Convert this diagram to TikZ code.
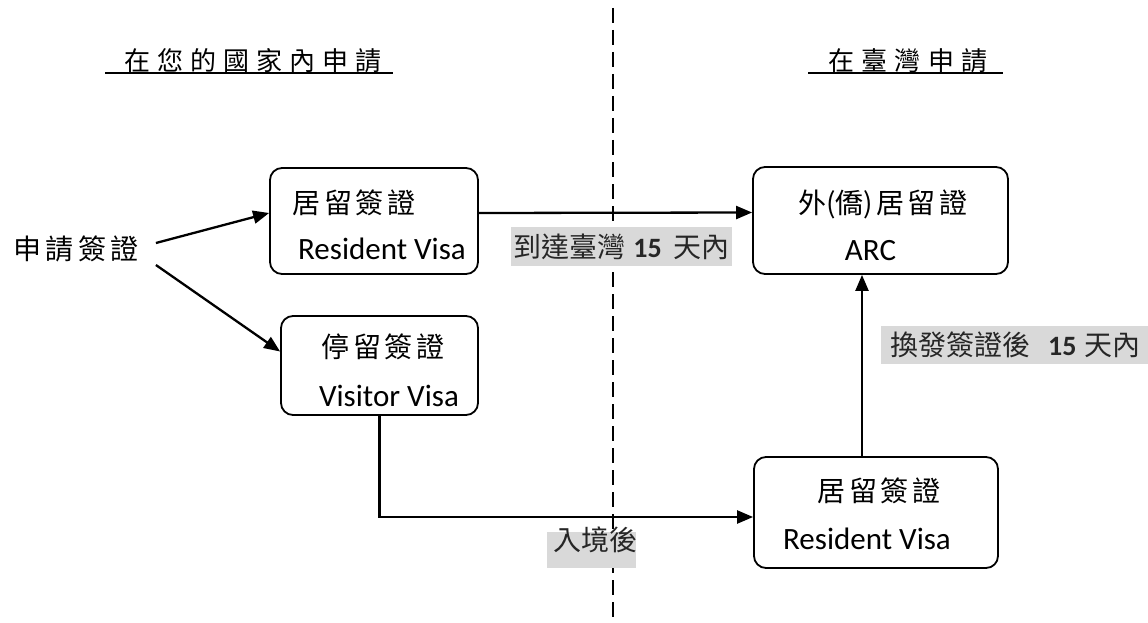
\documentclass[tikz,border=0pt]{standalone}
\usepackage{fontspec}
\setmainfont{Carlito}
\newfontfamily\cjk{Noto Sans CJK TC}
\newfontfamily\cjkbox[LetterSpace=14]{Noto Sans CJK TC}
\newfontfamily\cjktitle[LetterSpace=27]{Noto Sans CJK TC}
\newfontfamily\cjksrc[LetterSpace=16]{Noto Sans CJK TC}
\usetikzlibrary{arrows.meta,calc}
\definecolor{lblgray}{HTML}{D9D9D9}
\tikzset{
  box/.style={draw, line width=1.8pt, rounded corners=12pt, inner sep=0pt},
  cjktxt/.style={inner sep=0pt, anchor=center, font=\fontsize{28}{30}\selectfont\cjkbox},
  lattxt/.style={inner sep=0pt, anchor=base, font=\fontsize{31}{33}\selectfont},
  titletxt/.style={inner sep=0pt, anchor=center, font=\fontsize{26}{28}\selectfont\cjktitle},
  lbl/.style={fill=lblgray, inner xsep=2pt, inner ysep=0pt, font=\fontsize{28}{30}\selectfont, text=black!85},
  conn/.style={line width=2.3pt, -{Triangle[length=16pt,width=13pt]}},
  divider/.style={line width=1.6pt, dash pattern=on 15pt off 7pt},
  ul/.style={line width=2pt}
}
\begin{document}
\begin{tikzpicture}[x=1pt,y=1pt]
\useasboundingbox (0,0) rectangle (1148,-623);
% divider
\coordinate (dtop) at (613,-8);
\coordinate (dbot) at (613,-623);
\draw[divider] (dtop) -- (dbot);
% titles
\node[titletxt] (t1) at (253,-61) {在您的國家內申請};
\draw[ul] (105,-73) -- (393,-73);
\node[titletxt] (t2) at (908,-61) {在臺灣申請};
\draw[ul] (808,-73) -- (1003,-73);
% source
\node[inner sep=0pt, font=\fontsize{28}{30}\selectfont\cjksrc] (src) at (76,-249) {申請簽證};
% boxes
\node[box, minimum width=208pt, minimum height=106pt] (A) at (374,-221) {};
\node[box, minimum width=197pt, minimum height=99pt] (B) at (379.5,-365.5) {};
\node[box, minimum width=255pt, minimum height=107pt] (C) at (880.5,-220.5) {};
\node[box, minimum width=244pt, minimum height=111pt] (D) at (876,-512.5) {};
% box texts
\node[cjktxt] (a1) at (354,-203) {居留簽證};
\node[lattxt] (a2) at (382,-259) {Resident Visa};
\node[cjktxt] (b1) at (383,-347) {停留簽證};
\node[lattxt] (b2) at (389,-406) {Visitor Visa};
\node[inner sep=0pt, anchor=center, font=\fontsize{28}{30}\selectfont] (c1) at (883,-204) {{\cjk 外(僑)}\hspace{3pt}{\cjkbox 居留證}};
\node[lattxt] (c2) at (870.5,-260) {ARC};
\node[cjktxt] (d1) at (879,-491) {居留簽證};
\node[lattxt] (d2) at (867,-549) {Resident Visa};
% connectors
\draw[conn] ([shift={(17pt,6pt)}]src.east) -- ([yshift=8pt]A.west);
\draw[conn] ([shift={(17pt,-16pt)}]src.east) -- ([yshift=14pt]B.west);
\draw[conn] ([yshift=8pt]A.east) -- ([yshift=8pt]C.west);
\draw[conn] (B.south) |- ([yshift=-4.5pt]D.west);
\draw[conn] ([xshift=-14pt]D.north) -- ([xshift=-18.5pt]C.south);
% labels
\node[lbl, minimum height=39pt, minimum width=221pt] (l1) at (621.5,-246.5) {{\cjk 到達臺灣}\hspace{8pt}\textbf{15}\hspace{12pt}{\cjk 天內}};
\node[lbl, minimum height=38pt, anchor=west, text width=265pt] (l2) at (881,-345) {\hspace{7pt}{\cjk 換發簽證後}\hspace{18pt}\textbf{15}\hspace{8pt}{\cjk 天內}};
\node[fill=lblgray, inner sep=0pt, minimum width=89pt, minimum height=36pt] (l3bg) at (591.5,-550) {};
\node[inner sep=0pt, font=\fontsize{28}{30}\selectfont\cjk, text=black!85] (l3) at (595,-540) {入境後};
\end{tikzpicture}
\end{document}
